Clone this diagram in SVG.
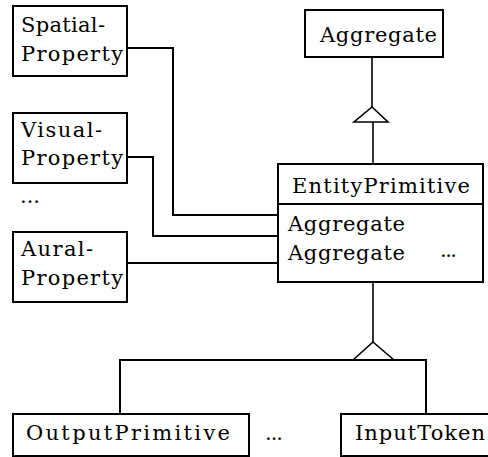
<svg xmlns="http://www.w3.org/2000/svg" width="488" height="457" viewBox="0 0 488 457">
  <style>
    .box { fill: #ffffff; stroke: #000000; stroke-width: 2; }
    .wire { fill: none; stroke: #000000; stroke-width: 2; }
    .tri { fill: none; stroke: #000000; stroke-width: 1.6; stroke-linejoin: miter; }
    .lbl { font-family: 'DejaVu Serif', 'Liberation Serif', serif; font-size: 21px; fill: #000000; }
  </style>
  <rect width="488" height="457" fill="#ffffff"/>

  <!-- connectors -->
  <g id="connectors">
    <!-- property associations into EntityPrimitive -->
    <polyline class="wire" points="127,48 173,48 173,215 278,215"/>
    <polyline class="wire" points="127,157 153,157 153,236 278,236"/>
    <polyline class="wire" points="127,263 278,263"/>
    <!-- EntityPrimitive generalises to Aggregate -->
    <line class="tri" x1="372" y1="57" x2="372" y2="107"/>
    <polygon class="tri" points="372,107 354,122 388,122"/>
    <line class="tri" x1="373" y1="122" x2="373" y2="164"/>
    <!-- subclasses of EntityPrimitive -->
    <line class="tri" x1="373" y1="282" x2="373" y2="342"/>
    <polyline class="tri" points="353,360 373,342 394,360"/>
    <polyline class="wire" points="120,414 120,360 426,360 426,414"/>
  </g>

  <g id="spatial-property">
    <rect class="box" x="13" y="6" width="114" height="70"/>
    <text class="lbl" x="21" y="32" textLength="84" lengthAdjust="spacing">Spatial-</text>
    <text class="lbl" x="21" y="61" textLength="102" lengthAdjust="spacing">Property</text>
  </g>

  <g id="visual-property">
    <rect class="box" x="13" y="113" width="114" height="70"/>
    <text class="lbl" x="21" y="137" textLength="81" lengthAdjust="spacing">Visual-</text>
    <text class="lbl" x="21" y="165" textLength="102" lengthAdjust="spacing">Property</text>
  </g>

  <g id="more-properties">
    <text class="lbl" x="20" y="203" textLength="20" lengthAdjust="spacing">...</text>
  </g>

  <g id="aural-property">
    <rect class="box" x="13" y="232" width="114" height="70"/>
    <text class="lbl" x="21" y="256" textLength="72" lengthAdjust="spacing">Aural-</text>
    <text class="lbl" x="21" y="285" textLength="102" lengthAdjust="spacing">Property</text>
  </g>

  <g id="aggregate">
    <rect class="box" x="305" y="10" width="138" height="47"/>
    <text class="lbl" x="320" y="42" textLength="117" lengthAdjust="spacing">Aggregate</text>
  </g>

  <g id="entity-primitive">
    <rect class="box" x="278" y="164" width="205" height="118"/>
    <line class="wire" x1="278" y1="204" x2="483" y2="204"/>
    <text class="lbl" x="292" y="193" textLength="178" lengthAdjust="spacing">EntityPrimitive</text>
    <text class="lbl" x="288" y="231" textLength="117" lengthAdjust="spacing">Aggregate</text>
    <text class="lbl" x="288" y="260" textLength="117" lengthAdjust="spacing">Aggregate</text>
    <text class="lbl" x="440" y="257" textLength="17" lengthAdjust="spacing">...</text>
  </g>

  <g id="output-primitive">
    <rect class="box" x="13" y="414" width="236" height="42"/>
    <text class="lbl" x="26" y="440" textLength="204" lengthAdjust="spacing">OutputPrimitive</text>
  </g>

  <g id="more-subclasses">
    <text class="lbl" x="265" y="440" textLength="18" lengthAdjust="spacing">...</text>
  </g>

  <g id="input-token">
    <rect class="box" x="341" y="414" width="150" height="42"/>
    <text class="lbl" x="355" y="440" textLength="130" lengthAdjust="spacing">InputToken</text>
  </g>
</svg>
